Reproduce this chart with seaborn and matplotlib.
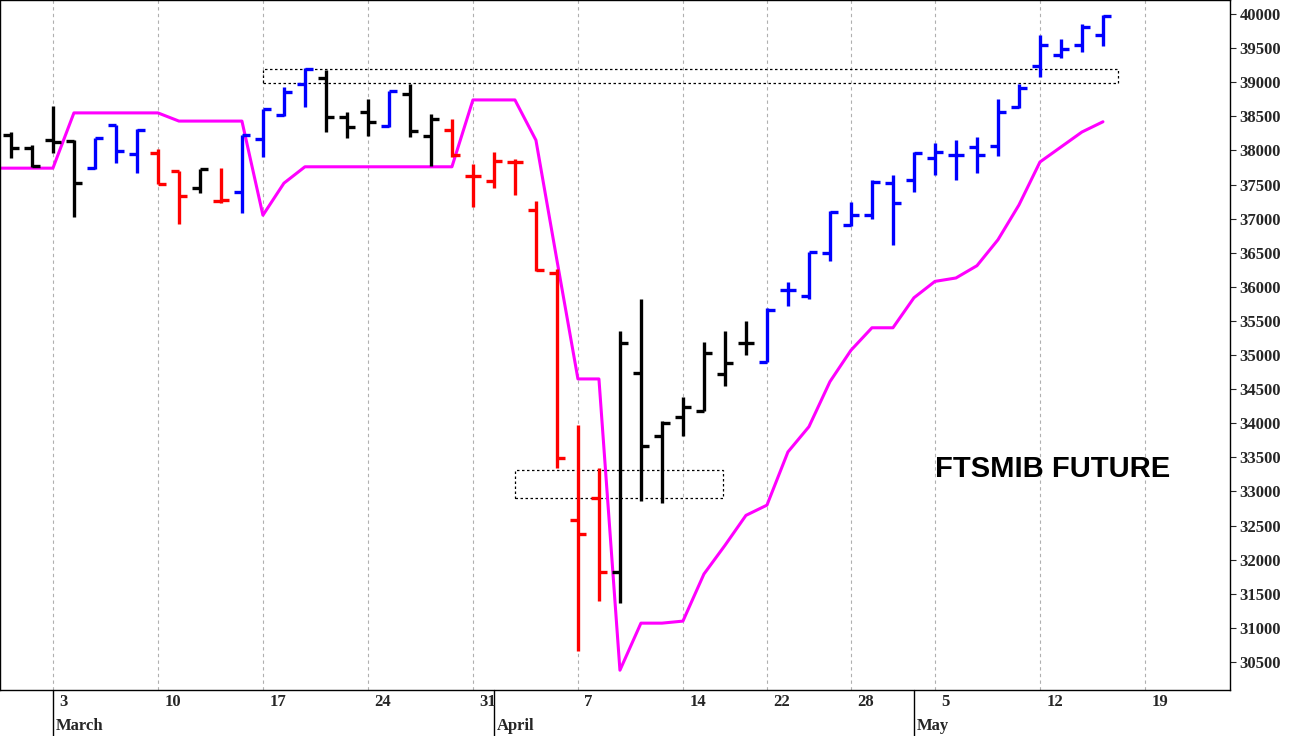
import matplotlib
matplotlib.use("Agg")
import matplotlib.pyplot as plt
import seaborn as sns
import numpy as np
import pandas as pd

# trading-day index, 0 = 3 March
day = list(range(-3, 51))
opens = [38520, 38230, 38040, 38150, 38140, 37740, 38370, 37950, 37960, 37700,
         37450, 37260, 37390, 38170, 38520, 38970, 39060, 38490, 38560, 38360,
         38830, 38210, 38300, 37630, 37550, 37830, 37130, 36200, 32580, 32900,
         31820, 34740, 33810, 34090, 34180, 34720, 35180, 34900, 35950, 35870,
         36500, 36910, 37050, 37520, 37570, 37890, 37930, 38050, 38060, 38640,
         39240, 39400, 39550, 39690]
highs = [38670, 38270, 38080, 38650, 38150, 38180, 38370, 38310, 38020, 37700,
         37730, 37740, 38230, 38610, 38930, 39210, 39180, 38560, 38750, 38870,
         38970, 38530, 38460, 37800, 37980, 37870, 37260, 36260, 33970, 33340,
         35350, 35820, 34030, 34390, 35190, 35350, 35500, 35690, 36070, 36510,
         37110, 37240, 37570, 37640, 37980, 38110, 38150, 38200, 38750, 38970,
         39690, 39630, 39850, 39990]
lows = [38450, 37890, 37760, 37960, 37020, 37730, 37820, 37670, 37510, 36920,
        37380, 37230, 37080, 37900, 38500, 38640, 38270, 38180, 38210, 38340,
        38200, 37770, 37900, 37170, 37450, 37350, 36230, 33340, 30660, 31390,
        31370, 32860, 32830, 33810, 34180, 34550, 35000, 34900, 35720, 35820,
        36380, 36890, 36990, 36610, 37390, 37640, 37570, 37670, 37920, 38620,
        39080, 39350, 39440, 39530]
closes = [38550, 38040, 37770, 38120, 37520, 38180, 37990, 38300, 37510, 37330,
          37730, 37270, 38230, 38610, 38860, 39190, 38490, 38340, 38420, 38870,
          38280, 38460, 37930, 37630, 37850, 37830, 36250, 33490, 32380, 31820,
          35180, 33670, 34000, 34240, 35030, 34880, 35180, 35660, 35950, 36510,
          37100, 37050, 37540, 37230, 37960, 37980, 37930, 37930, 38560, 38920,
          39550, 39490, 39810, 39970]
bar_colors = (["blue"] + ["black"] * 4 + ["blue"] * 3 + ["red"] * 2 + ["black", "red"]
              + ["blue"] * 4 + ["black"] * 3 + ["blue"] + ["black"] * 2 + ["red"] * 8
              + ["black"] * 7 + ["blue"] * 17)
stop_line = [37740, 37740, 37740, 37740, 38550, 38550, 38550, 38550, 38550, 38430,
             38430, 38430, 38430, 37050, 37520, 37760, 37760, 37760, 37760, 37760,
             37760, 37760, 37760, 38740, 38740, 38740, 38150, 36390, 34650, 34650,
             30380, 31070, 31070, 31100, 31790, 32210, 32650, 32800, 33580, 33950,
             34610, 35070, 35400, 35400, 35840, 36080, 36130, 36310, 36690, 37200,
             37830, 38050, 38270, 38420]

tick_days = [0, 5, 10, 15, 20, 25, 30, 34, 38, 42, 47, 52]
tick_labels = ["3", "10", "17", "24", "31", "7", "14", "22", "28", "5", "12", "19"]
month_days = [0, 21, 41]
month_labels = ["March", "April", "May"]
yticks = list(range(30500, 40001, 500))

df = pd.DataFrame({"day": day, "open": opens, "high": highs, "low": lows,
                   "close": closes, "color": bar_colors, "stop": stop_line})

sns.set_style("white")
plt.rcParams["font.family"] = ["Liberation Serif", "DejaVu Serif"]

fig = plt.figure(figsize=(13.05, 7.36), dpi=100)
ax = fig.add_axes([0, 46 / 736, 1230 / 1305, 690 / 736])

for x in tick_days:
    ax.axvline(x, color="#b0b0b0", lw=0.8, ls=(0, (3, 3)), zorder=0)

sns.lineplot(data=df, x="day", y="stop", ax=ax, color="#ff00ff", lw=2.2, zorder=2)

w = 0.4
ax.vlines(df["day"], df["low"], df["high"], colors=df["color"], lw=2.4, zorder=3)
ax.hlines(df["open"], df["day"] - w, df["day"], colors=df["color"], lw=2.4, zorder=3)
ax.hlines(df["close"], df["day"], df["day"] + w, colors=df["color"], lw=2.4, zorder=3)

# dashed boxes
ax.add_patch(plt.Rectangle((10, 38990), 40.7, 200, fill=False, ls=(0, (2, 2)), lw=0.9, ec="black"))
ax.add_patch(plt.Rectangle((22, 32900), 9.9, 410, fill=False, ls=(0, (2, 2)), lw=0.9, ec="black"))

ax.text(47.6, 33330, "FTSMIB FUTURE", fontsize=21, fontweight="bold", color="black",
        family=["Liberation Sans", "DejaVu Sans"], ha="center", va="center")

ax.set_xlim(-2.52, 56.05)
ax.set_ylim(30090, 40205)
ax.yaxis.tick_right()
ax.set_yticks(yticks)
ax.set_yticklabels([str(v) for v in yticks], fontsize=12, fontweight="bold")
ax.tick_params(axis="y", length=4, direction="out", right=True, pad=3)
ax.set_xticks([])
ax.set_xlabel("")
ax.set_ylabel("")
for s in ax.spines.values():
    s.set_color("black")
    s.set_linewidth(1)

for x, lab in zip(tick_days, tick_labels):
    ax.text(x + 0.3, -0.017, lab, transform=ax.get_xaxis_transform(),
            fontsize=12, fontweight="bold", ha="left", va="center", clip_on=False)
for x, lab in zip(month_days, month_labels):
    ax.text(x + 0.15, -0.052, lab, transform=ax.get_xaxis_transform(),
            fontsize=12, fontweight="bold", ha="left", va="center", clip_on=False)
    ax.plot([x, x], [0, -0.07], transform=ax.get_xaxis_transform(),
            color="black", lw=1, clip_on=False)

fig.savefig("out.png", dpi=100)
